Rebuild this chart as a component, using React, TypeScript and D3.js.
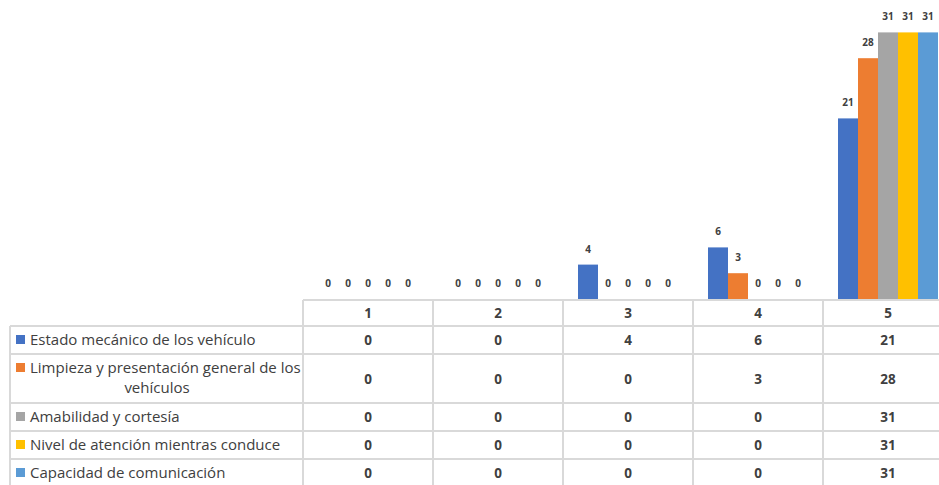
import React from 'react'
import * as d3 from 'd3'

const categories = ['1', '2', '3', '4', '5']
const seriesNames = [
  'Estado mecánico de los vehículo',
  'Limpieza y presentación general de los vehículos',
  'Amabilidad y cortesía',
  'Nivel de atención mientras conduce',
  'Capacidad de comunicación',
]
const estado = [0, 0, 4, 6, 21]
const limpieza = [0, 0, 0, 3, 28]
const amabilidad = [0, 0, 0, 0, 31]
const nivel = [0, 0, 0, 0, 31]
const capacidad = [0, 0, 0, 0, 31]
const seriesValues = [estado, limpieza, amabilidad, nivel, capacidad]
const colors = ['#4472C4', '#ED7D31', '#A5A5A5', '#FFC000', '#5B9BD5']

const W = 939
const H = 485
const FONT = '"Open Sans", Lato, sans-serif'
const TEXT = '#404040'
const GRID = '#d9d9d9'

const App = () => {
  const x = d3.scaleBand<string>().domain(categories).range([303, 303 + 130 * 5])
  const inner = d3
    .scaleBand<number>()
    .domain(d3.range(seriesNames.length))
    .range([0, x.bandwidth()])
    .paddingOuter(0.75)
  const y = d3.scaleLinear().domain([0, 35]).range([299, -2])

  // table rows: header, then one per series
  const rowEdges = [300, 326, 354, 403, 431, 459, 487]
  const colEdges = [303, ...categories.map((c) => (x(c) as number) + x.bandwidth())]

  return (
    <svg
      width={W}
      height={H}
      style={{ position: 'absolute', left: 0, top: 0, background: '#fff' }}
      fontFamily={FONT}
    >
      {/* bars */}
      {seriesValues.map((vals, s) =>
        vals.map((v, i) => {
          const bx = (x(categories[i]) as number) + (inner(s) as number)
          return (
            <g key={`b${s}-${i}`}>
              {v > 0 && (
                <rect x={bx} y={y(v)} width={inner.bandwidth()} height={y(0) - y(v)} fill={colors[s]} />
              )}
              <text
                x={bx + inner.bandwidth() / 2}
                y={y(v) - 12}
                textAnchor="middle"
                fontSize={10}
                fontWeight="bold"
                fill={TEXT}
              >
                {v}
              </text>
            </g>
          )
        })
      )}

      {/* table grid */}
      <line x1={303} x2={W} y1={rowEdges[0]} y2={rowEdges[0]} stroke={GRID} strokeWidth={2} />
      {rowEdges.slice(1).map((ry, i) => (
        <line key={`h${i}`} x1={10} x2={W} y1={ry} y2={ry} stroke={GRID} strokeWidth={2} />
      ))}
      <line x1={10} x2={10} y1={rowEdges[1]} y2={H} stroke={GRID} strokeWidth={2} />
      {colEdges.map((cx, i) => (
        <line key={`v${i}`} x1={cx} x2={cx} y1={rowEdges[0]} y2={H} stroke={GRID} strokeWidth={2} />
      ))}

      {/* header */}
      {categories.map((c) => (
        <text
          key={`hc${c}`}
          x={(x(c) as number) + x.bandwidth() / 2}
          y={(rowEdges[0] + rowEdges[1]) / 2 + 5}
          textAnchor="middle"
          fontSize={13.5}
          fontWeight="bold"
          fill={TEXT}
        >
          {c}
        </text>
      ))}

      {/* rows */}
      {seriesNames.map((name, s) => {
        const top = rowEdges[s + 1]
        const bottom = rowEdges[s + 2]
        const mid = (top + bottom) / 2
        const twoLines = s === 1
        return (
          <g key={`r${s}`}>
            <rect x={16} y={(twoLines ? top + 14 : mid) - 5} width={9} height={9} fill={colors[s]} />
            {twoLines ? (
              <>
                <text x={30} y={top + 19} fontSize={15} fill={TEXT}>
                  Limpieza y presentación general de los
                </text>
                <text x={157} y={top + 39} fontSize={15} fill={TEXT} textAnchor="middle">
                  vehículos
                </text>
              </>
            ) : (
              <text x={30} y={mid + 5} fontSize={15} fill={TEXT}>
                {name}
              </text>
            )}
            {seriesValues[s].map((v, i) => (
              <text
                key={`c${s}-${i}`}
                x={(x(categories[i]) as number) + x.bandwidth() / 2}
                y={mid + 5}
                textAnchor="middle"
                fontSize={13.5}
                fontWeight="bold"
                fill={TEXT}
              >
                {v}
              </text>
            ))}
          </g>
        )
      })}
    </svg>
  )
}

export default App
